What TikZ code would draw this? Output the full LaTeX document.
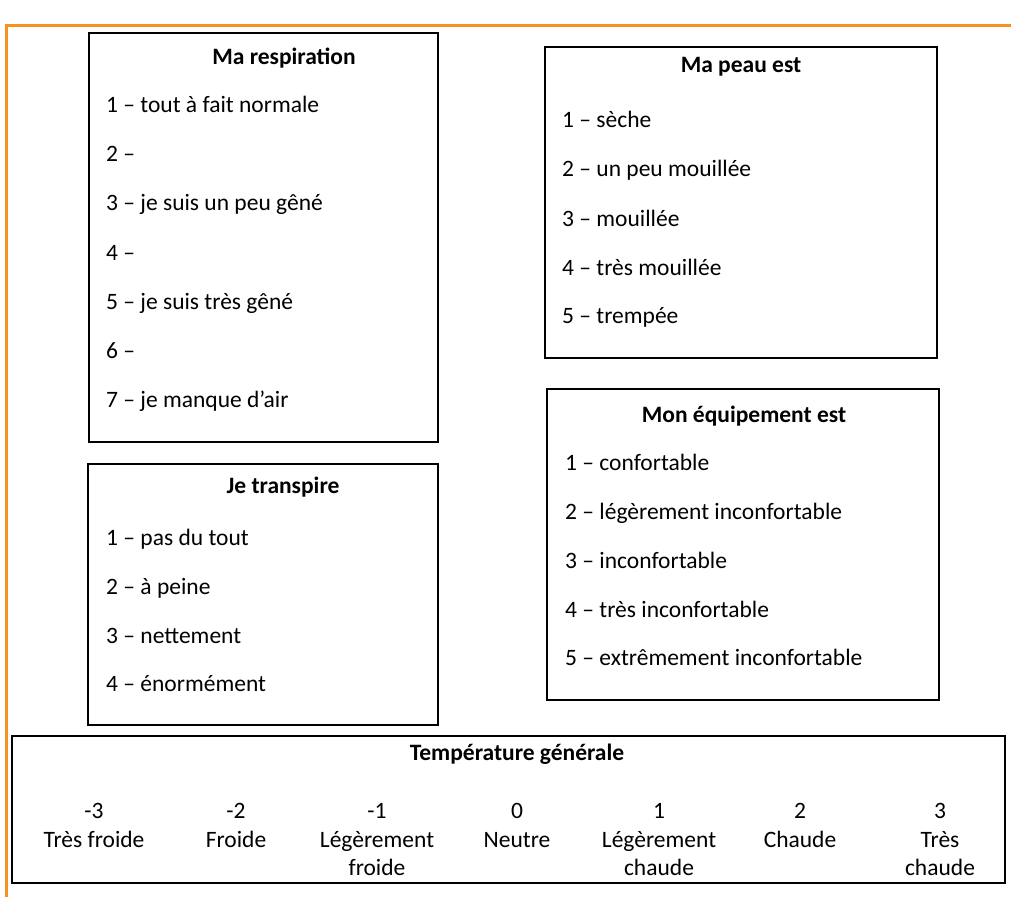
\documentclass[tikz,border=0pt]{standalone}
\usepackage{fontspec}
\setmainfont{Carlito}
\definecolor{frameorange}{HTML}{F5931F}
\begin{document}
\begin{tikzpicture}[x=1pt,y=-1pt,
  box/.style={draw=black,line width=1.6pt,inner sep=0pt},
  ttl/.style={anchor=base,inner sep=0pt,font=\fontsize{23.5}{28}\selectfont\bfseries},
  itm/.style={anchor=base west,inner sep=0pt,font=\fontsize{23.5}{28}\selectfont},
  tmp/.style={anchor=base,inner sep=0pt,font=\fontsize{23.5}{28}\selectfont}]
\useasboundingbox (0,0) rectangle (1011,896);
% orange frame
\draw[frameorange,line width=3pt] (6,900) -- (6,26) -- (1015,26);
% boxes
\node[box,minimum width=349pt,minimum height=409pt] (R) at (263.5,237.5) {};
\node[box,minimum width=392pt,minimum height=311pt] (P) at (741,202.5) {};
\node[box,minimum width=392pt,minimum height=311pt] (E) at (743,544.5) {};
\node[box,minimum width=350pt,minimum height=261pt] (J) at (263,594.5) {};
\node[box,minimum width=993pt,minimum height=147pt] (T) at (508.5,809.5) {};
% Ma respiration
\node[ttl] (Rt) at (284,65) {Ma respiration};
\node[itm] (R1) at (106,113) {1 – tout à fait normale};
\node[itm] (R2) at (106,162) {2 –};
\node[itm] (R3) at (106,211) {3 – je suis un peu gêné};
\node[itm] (R4) at (106,260) {4 –};
\node[itm] (R5) at (106,309) {5 – je suis très gêné};
\node[itm] (R6) at (106,358) {6 –};
\node[itm] (R7) at (106,407) {7 – je manque d’air};
% Ma peau est
\node[ttl] (Pt) at (741,73) {Ma peau est};
\node[itm] (P1) at (562,128) {1 – sèche};
\node[itm] (P2) at (562,177) {2 – un peu mouillée};
\node[itm] (P3) at (562,226) {3 – mouillée};
\node[itm] (P4) at (562,275) {4 – très mouillée};
\node[itm] (P5) at (562,323) {5 – trempée};
% Mon équipement est
\node[ttl] (Et) at (744,422) {Mon équipement est};
\node[itm] (E1) at (565,470) {1 – confortable};
\node[itm] (E2) at (565,519) {2 – légèrement inconfortable};
\node[itm] (E3) at (565,568) {3 – inconfortable};
\node[itm] (E4) at (565,617) {4 – très inconfortable};
\node[itm] (E5) at (565,665) {5 – extrêmement inconfortable};
% Je transpire
\node[ttl] (Jt) at (283,493) {Je transpire};
\node[itm] (J1) at (106,545) {1 – pas du tout};
\node[itm] (J2) at (106,594) {2 – à peine};
\node[itm] (J3) at (106,643) {3 – nettement};
\node[itm] (J4) at (106,691) {4 – énormément};
% Temperature
\node[ttl] (Tt) at (517,760) {Température générale};
\node[tmp] (n1) at (94,818) {-3};
\node[tmp] (n2) at (236,818) {-2};
\node[tmp] (n3) at (377,818) {-1};
\node[tmp] (n4) at (517,818) {0};
\node[tmp] (n5) at (659,818) {1};
\node[tmp] (n6) at (800,818) {2};
\node[tmp] (n7) at (940,818) {3};
\node[tmp] (l1) at (94,847) {Très froide};
\node[tmp] (l2) at (236,847) {Froide};
\node[tmp] (l3) at (377,847) {Légèrement};
\node[tmp] (l3b) at (377,875) {froide};
\node[tmp] (l4) at (517,847) {Neutre};
\node[tmp] (l5) at (659,847) {Légèrement};
\node[tmp] (l5b) at (659,875) {chaude};
\node[tmp] (l6) at (800,847) {Chaude};
\node[tmp] (l7) at (940,847) {Très};
\node[tmp] (l7b) at (940,875) {chaude};
\end{tikzpicture}
\end{document}
